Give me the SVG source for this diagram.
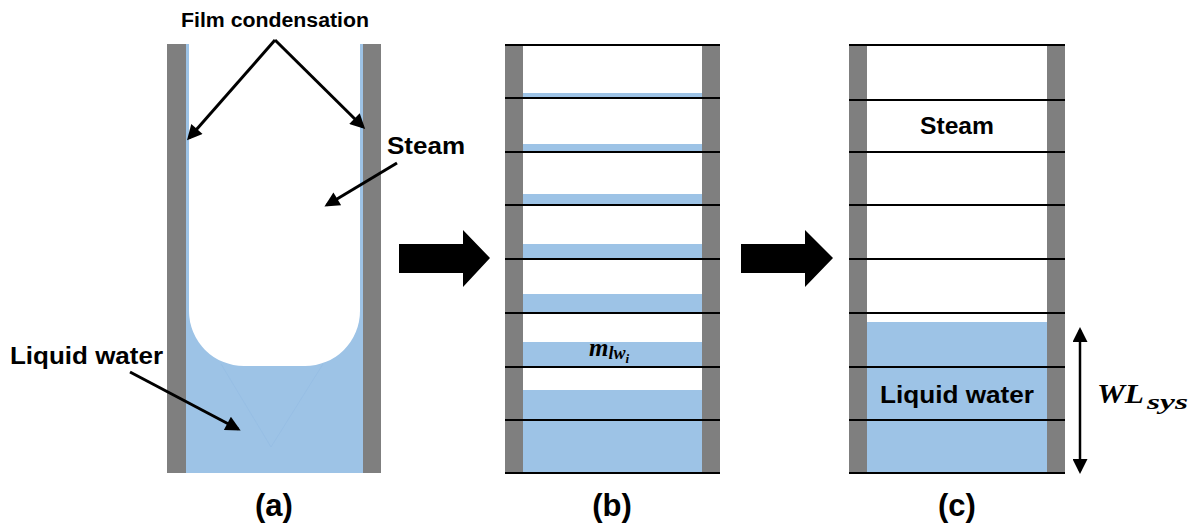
<svg xmlns="http://www.w3.org/2000/svg" width="1196" height="526" viewBox="0 0 1196 526">
  <style>
    .wall { fill: #7f7f7f; }
    .water { fill: #9dc3e6; }
    .grid { stroke: #000; stroke-width: 2; fill: none; }
    .lbl { font-family: "Liberation Sans", Arial, sans-serif; font-weight: bold; fill: #000; }
    .math { font-family: "Liberation Serif", "Times New Roman", serif; font-weight: bold; font-style: italic; fill: #000; }
    .ptr { stroke: #000; stroke-width: 3; fill: none; marker-end: url(#head); }
    .block { fill: #000; }
  </style>
  <defs>
    <marker id="head" viewBox="0 0 10 10" refX="8" refY="5" markerWidth="5.5" markerHeight="5" orient="auto" markerUnits="strokeWidth">
      <path d="M0,0 L10,5 L0,10 Z" fill="#000"/>
    </marker>
    <marker id="head2" viewBox="0 0 10 10" refX="8" refY="5" markerWidth="6" markerHeight="6" orient="auto-start-reverse" markerUnits="strokeWidth">
      <path d="M0,0 L10,5 L0,10 Z" fill="#000"/>
    </marker>
  </defs>
  <rect width="1196" height="526" fill="#fff"/>

  <!-- Panel (a): tube with film condensation and pooled water -->
  <g id="panel-a">
    <rect class="water" x="186" y="44" width="177" height="429"/>
    <path d="M189,44 H360 V311 A55,55 0 0 1 305,366 H244 A55,55 0 0 1 189,311 Z" fill="#fff"/>
    <path d="M221,364 L271,447 L323,364" fill="none" stroke="#93bbe2" stroke-width="1" opacity="0.6"/>
    <rect class="wall" x="167" y="44" width="19" height="429"/>
    <rect class="wall" x="363" y="44" width="18" height="429"/>
  </g>

  <!-- Panel (b): discretised cells with water per cell -->
  <g id="panel-b">
    <rect class="water" x="523" y="93" width="179" height="5"/>
    <rect class="water" x="523" y="144" width="179" height="8"/>
    <rect class="water" x="523" y="194" width="179" height="11"/>
    <rect class="water" x="523" y="244" width="179" height="15"/>
    <rect class="water" x="523" y="294" width="179" height="19"/>
    <rect class="water" x="523" y="342" width="179" height="25"/>
    <rect class="water" x="523" y="390" width="179" height="83"/>
    <rect class="wall" x="505" y="45" width="18" height="428"/>
    <rect class="wall" x="702" y="45" width="18" height="428"/>
    <path class="grid" d="M505,45 H720 M505,98 H720 M505,152 H720 M505,205 H720 M505,259 H720 M505,313 H720 M505,367 H720 M505,420 H720 M505,473 H720"/>
    <text class="math" x="589" y="356" font-size="25">m<tspan font-size="18" dy="3">lw</tspan><tspan font-size="13" dy="4">i</tspan></text>
  </g>

  <!-- Panel (c): collapsed water level -->
  <g id="panel-c">
    <rect class="water" x="867" y="322" width="180" height="151"/>
    <rect class="wall" x="849" y="45" width="18" height="428"/>
    <rect class="wall" x="1047" y="45" width="18" height="428"/>
    <path class="grid" d="M849,45 H1065 M849,100 H1065 M849,152 H1065 M849,205 H1065 M849,259 H1065 M849,313 H1065 M849,367 H1065 M849,420 H1065 M849,473 H1065"/>
    <text class="lbl" x="957" y="134" font-size="23" text-anchor="middle" textLength="74" lengthAdjust="spacingAndGlyphs">Steam</text>
    <text class="lbl" x="957" y="403" font-size="23" text-anchor="middle" textLength="154" lengthAdjust="spacingAndGlyphs">Liquid water</text>
  </g>

  <!-- Pointers and transition arrows -->
  <g id="connectors">
    <line class="ptr" x1="275" y1="40" x2="189" y2="138"/>
    <line class="ptr" x1="275" y1="40" x2="363" y2="127"/>
    <line class="ptr" x1="397" y1="163" x2="327" y2="205"/>
    <line class="ptr" x1="130" y1="372" x2="238" y2="429"/>
    <line x1="1080" y1="330" x2="1080" y2="471" stroke="#000" stroke-width="2.5" marker-start="url(#head2)" marker-end="url(#head2)"/>
    <polygon class="block" points="399,244 463,244 463,230 490,258 463,287 463,273 399,273"/>
    <polygon class="block" points="741,244 805,244 805,230 833,258 805,287 805,273 741,273"/>
  </g>

  <!-- Labels -->
  <g id="labels">
    <text class="lbl" x="275" y="27" font-size="20" text-anchor="middle" textLength="188" lengthAdjust="spacingAndGlyphs">Film condensation</text>
    <text class="lbl" x="387" y="154" font-size="24" textLength="78" lengthAdjust="spacingAndGlyphs">Steam</text>
    <text class="lbl" x="10" y="364" font-size="24" textLength="153" lengthAdjust="spacingAndGlyphs">Liquid water</text>
    <text class="math" x="1097" y="403" font-size="28" textLength="47" lengthAdjust="spacingAndGlyphs">WL</text>
    <text class="math" x="1147" y="409" font-size="21" textLength="41" lengthAdjust="spacingAndGlyphs">sys</text>
    <text class="lbl" x="274" y="516" font-size="31" text-anchor="middle">(a)</text>
    <text class="lbl" x="612" y="516" font-size="31" text-anchor="middle">(b)</text>
    <text class="lbl" x="957" y="516" font-size="31" text-anchor="middle">(c)</text>
  </g>
</svg>
